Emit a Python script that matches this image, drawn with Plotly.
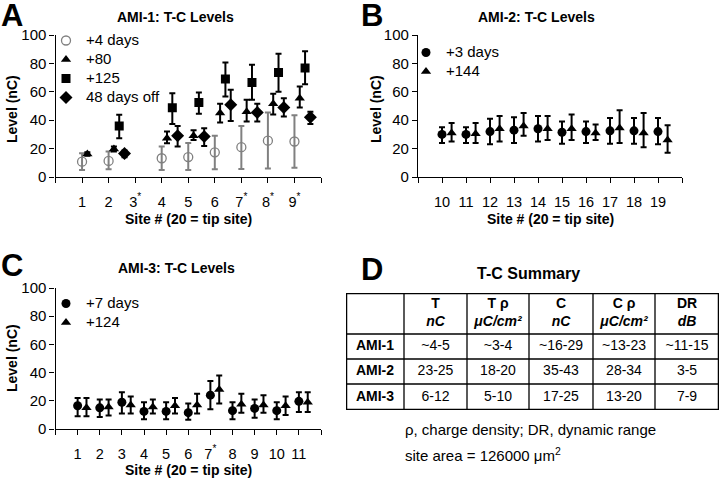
import plotly.graph_objects as go

# ── Panel A: AMI-1 (site, mean, upper, lower) ─────────────────────
a_d4_sites = [1, 2, 4, 5, 6, 7, 8, 9]
a_d4_mean = [10.8, 11.3, 13.2, 14.0, 17.4, 21.0, 25.6, 25.0]
a_d4_hi = [16.7, 18.0, 21.4, 24.0, 29.0, 36.0, 45.4, 43.5]
a_d4_lo = [5.0, 5.4, 5.0, 5.0, 5.4, 5.6, 6.0, 6.5]

a_d80_sites = [1, 2, 4, 5, 6, 7, 8, 9]
a_d80_mean = [16.2, 19.8, 27.3, 29.0, 45.0, 46.0, 51.5, 55.5]
a_d80_hi = [17.5, 21.4, 32.0, 33.0, 51.5, 54.4, 58.6, 63.8]
a_d80_lo = [15.0, 18.0, 23.8, 26.0, 38.4, 39.0, 44.0, 49.0]

a_d125_sites = [2, 4, 5, 6, 7, 8, 9]
a_d125_mean = [36.0, 48.7, 52.5, 69.0, 66.6, 73.6, 76.7]
a_d125_hi = [43.8, 59.0, 59.5, 80.7, 79.0, 86.8, 88.5]
a_d125_lo = [27.3, 37.4, 44.5, 56.7, 54.4, 60.0, 65.4]

a_off_sites = [2, 4, 5, 6, 7, 8, 9]
a_off_mean = [16.5, 29.0, 28.5, 50.8, 45.4, 49.0, 42.0]
a_off_hi = [18.6, 36.0, 34.4, 61.4, 51.5, 55.5, 46.0]
a_off_lo = [13.9, 21.4, 21.9, 39.5, 39.0, 42.6, 37.4]

a_ticks = list(range(0, 11))
a_ticktext = ["", "1", "2", "3<sup>*</sup>", "4", "5", "6",
              "7<sup>*</sup>", "8<sup>*</sup>", "9<sup>*</sup>", ""]

# ── Panel B: AMI-2 ────────────────────────────────────────────────
b_sites = list(range(10, 20))
b_d3_mean = [30.0, 30.0, 32.0, 33.0, 34.0, 31.5, 32.0, 32.5, 32.5, 32.0]
b_d3_hi = [35.0, 35.0, 41.0, 42.0, 43.0, 39.0, 39.0, 41.6, 41.6, 41.6]
b_d3_lo = [24.0, 24.0, 23.0, 24.0, 25.0, 23.5, 24.0, 23.5, 23.5, 23.0]

b_d144_mean = [31.0, 30.5, 34.0, 36.0, 34.0, 34.0, 31.0, 34.5, 31.0, 26.0]
b_d144_hi = [38.0, 38.0, 43.0, 45.0, 43.0, 44.0, 37.0, 47.0, 45.0, 36.5]
b_d144_lo = [25.0, 24.0, 25.0, 29.0, 26.0, 26.0, 26.0, 24.0, 21.0, 17.0]

b_ticks = list(range(9, 21))
b_ticktext = [""] + [str(s) for s in b_sites] + [""]

# ── Panel C: AMI-3 ────────────────────────────────────────────────
c_sites = list(range(1, 12))
c_d7_mean = [16.5, 15.0, 19.0, 12.5, 12.5, 11.6, 24.0, 13.0, 14.6, 13.0, 19.6]
c_d7_hi = [22.0, 21.0, 26.0, 19.0, 19.0, 18.0, 34.0, 19.0, 21.0, 19.0, 26.0]
c_d7_lo = [9.0, 8.5, 11.0, 7.0, 7.0, 6.6, 14.0, 7.0, 8.0, 7.0, 12.0]

c_d124_mean = [15.0, 15.6, 17.0, 15.6, 16.5, 17.0, 28.0, 17.5, 17.0, 16.5, 19.0]
c_d124_hi = [22.0, 21.0, 23.0, 21.0, 22.0, 25.0, 38.0, 25.0, 24.0, 23.0, 26.0]
c_d124_lo = [9.0, 9.5, 11.0, 11.0, 11.0, 11.0, 18.0, 11.5, 11.5, 10.0, 12.0]

c_ticks = list(range(0, 13))
c_ticktext = ["", "1", "2", "3", "4", "5", "6", "7<sup>*</sup>",
              "8", "9", "10", "11", ""]

# ── Panel D: summary table ────────────────────────────────────────
tbl_header = ["", "T<br><i>nC</i>", "T ρ<br><i>μC/cm²</i>",
              "C<br><i>nC</i>", "C ρ<br><i>μC/cm²</i>", "DR<br><i>dB</i>"]
tbl_rows = ["AMI-1", "AMI-2", "AMI-3"]
tbl_T = ["~4-5", "23-25", "6-12"]
tbl_Trho = ["~3-4", "18-20", "5-10"]
tbl_C = ["~16-29", "35-43", "17-25"]
tbl_Crho = ["~13-23", "28-34", "13-20"]
tbl_DR = ["~11-15", "3-5", "7-9"]
tbl_colw = [58, 63, 62, 64, 62, 64]
tbl_rowh = [41, 25, 25, 26]

FONT = "Liberation Sans, Arial, sans-serif"
BLACK = "#000000"
GREY = "#808080"
W, H = 720, 480


def px(x):
    return x / W


def py(y):
    return 1 - y / H


def leg(name):
    return f'<span style="font-size:15px">{name}</span>'


def err_trace(sites, mean, hi, lo, name, dx, xa, ya, symbol, size,
              color=BLACK, legend="legend", open_marker=False):
    marker = dict(symbol=symbol, size=size, color=color)
    if open_marker:
        marker["line"] = dict(color=color, width=1.3)
    return go.Scatter(
        x=[s + dx for s in sites], y=mean,
        mode="markers", name=leg(name),
        marker=marker,
        error_y=dict(type="data", symmetric=False,
                     array=[h - m for h, m in zip(hi, mean)],
                     arrayminus=[m - l for m, l in zip(mean, lo)],
                     color=color, thickness=2, width=3),
        xaxis=xa, yaxis=ya, legend=legend,
    )


fig = go.Figure()

# A
fig.add_trace(err_trace(a_d4_sites, a_d4_mean, a_d4_hi, a_d4_lo, "+4 days",
                        0.0, "x", "y", "circle-open", 9, GREY, open_marker=True))
fig.add_trace(err_trace(a_d80_sites, a_d80_mean, a_d80_hi, a_d80_lo, "+80",
                        0.2, "x", "y", "triangle-up", 9))
fig.add_trace(err_trace(a_d125_sites, a_d125_mean, a_d125_hi, a_d125_lo, "+125",
                        0.4, "x", "y", "square", 9))
fig.add_trace(err_trace(a_off_sites, a_off_mean, a_off_hi, a_off_lo, "48 days off",
                        0.6, "x", "y", "diamond", 10))
# B
fig.add_trace(err_trace(b_sites, b_d3_mean, b_d3_hi, b_d3_lo, "+3 days",
                        0.0, "x2", "y2", "circle", 9, legend="legend2"))
fig.add_trace(err_trace(b_sites, b_d144_mean, b_d144_hi, b_d144_lo, "+144",
                        0.4, "x2", "y2", "triangle-up", 9, legend="legend2"))
# C
fig.add_trace(err_trace(c_sites, c_d7_mean, c_d7_hi, c_d7_lo, "+7 days",
                        0.0, "x3", "y3", "circle", 9, legend="legend3"))
fig.add_trace(err_trace(c_sites, c_d124_mean, c_d124_hi, c_d124_lo, "+124",
                        0.4, "x3", "y3", "triangle-up", 9, legend="legend3"))

# ── D: table drawn on a hidden axis pair (x4/y4, units = pixels) ──
col_edges = [0]
for w in tbl_colw:
    col_edges.append(col_edges[-1] + w)
row_edges = [0]
for h in tbl_rowh:
    row_edges.append(row_edges[-1] + h)
col_mid = [(a + b) / 2 for a, b in zip(col_edges[:-1], col_edges[1:])]
row_mid = [(a + b) / 2 for a, b in zip(row_edges[:-1], row_edges[1:])]

columns = [[f"<b>{r}</b>" for r in tbl_rows], tbl_T, tbl_Trho, tbl_C,
           tbl_Crho, tbl_DR]
cx, cy, ct = [], [], []
for j, h in enumerate(tbl_header):
    cx.append(col_mid[j])
    cy.append(row_mid[0])
    ct.append(f"<b>{h}</b>")
    for i, v in enumerate(columns[j]):
        cx.append(col_mid[j])
        cy.append(row_mid[i + 1])
        ct.append(v)

fig.add_trace(go.Scatter(
    x=cx, y=cy, text=ct, mode="text", textposition="middle center",
    textfont=dict(family=FONT, size=14, color=BLACK),
    xaxis="x4", yaxis="y4", showlegend=False, hoverinfo="skip",
))

for e in col_edges[1:-1]:
    fig.add_shape(type="line", xref="x4", yref="y4", x0=e, x1=e,
                  y0=0, y1=row_edges[-1], line=dict(color=BLACK, width=1.3))
for e in row_edges[1:-1]:
    fig.add_shape(type="line", xref="x4", yref="y4", x0=0, x1=col_edges[-1],
                  y0=e, y1=e, line=dict(color=BLACK, width=1.3))
fig.add_shape(type="rect", xref="x4", yref="y4", x0=0, x1=col_edges[-1],
              y0=0, y1=row_edges[-1], line=dict(color=BLACK, width=2.5))

axis_common = dict(showline=True, linecolor=BLACK, linewidth=1.3,
                   ticks="outside", ticklen=5, tickcolor=BLACK, tickwidth=1.3,
                   showgrid=False, zeroline=False, fixedrange=True,
                   automargin=False)
xtick_font = dict(family=FONT, size=14.5, color=BLACK)
ytick_font = dict(family=FONT, size=15, color=BLACK)
y_ticks = [0, 20, 40, 60, 80, 100]

legend_common = dict(xanchor="left", yanchor="top", bgcolor="rgba(0,0,0,0)",
                     font=dict(family=FONT, size=11, color=BLACK))

fig.update_layout(
    template="none",
    width=W, height=H,
    margin=dict(l=0, r=0, t=0, b=0, pad=0),
    paper_bgcolor="white", plot_bgcolor="white",
    font=dict(family=FONT, color=BLACK),
    xaxis=dict(domain=[px(55.5), px(321)], range=[0, 10], anchor="y",
               tickmode="array", tickvals=a_ticks, ticktext=a_ticktext,
               ticklabelstandoff=6, tickfont=xtick_font, **axis_common),
    yaxis=dict(domain=[py(177), py(35)], range=[0, 100], anchor="x",
               tickvals=y_ticks, tickfont=ytick_font, **axis_common),
    xaxis2=dict(domain=[px(418), px(682)], range=[9, 20], anchor="y2",
                tickmode="array", tickvals=b_ticks, ticktext=b_ticktext,
                ticklabelstandoff=6, tickfont=xtick_font, **axis_common),
    yaxis2=dict(domain=[py(177), py(35)], range=[0, 100], anchor="x2",
                tickvals=y_ticks, tickfont=ytick_font, **axis_common),
    xaxis3=dict(domain=[px(55.5), px(321)], range=[0, 12], anchor="y3",
                tickmode="array", tickvals=c_ticks, ticktext=c_ticktext,
                ticklabelstandoff=6, tickfont=xtick_font, **axis_common),
    yaxis3=dict(domain=[py(429), py(288)], range=[0, 100], anchor="x3",
                tickvals=y_ticks, tickfont=ytick_font, **axis_common),
    xaxis4=dict(domain=[px(346), px(719)], range=[0, col_edges[-1]],
                anchor="y4", visible=False, fixedrange=True),
    yaxis4=dict(domain=[py(293 + row_edges[-1]), py(293)],
                range=[row_edges[-1], 0], anchor="x4", visible=False,
                fixedrange=True),
    legend=dict(x=px(46), y=py(26), **legend_common),
    legend2=dict(x=px(406), y=py(38), **legend_common),
    legend3=dict(x=px(46), y=py(289), **legend_common),
)

texts = [
    # (text, x px, y px, size, angle)
    ("A", 12, 15, 31, 0),
    ("B", 372, 15, 31, 0),
    ("C", 12, 265, 31, 0),
    ("D", 372, 269, 31, 0),
    ("AMI-1: T-C Levels", 175, 17, 14, 0),
    ("AMI-2: T-C Levels", 536, 17, 14, 0),
    ("AMI-3: T-C Levels", 176, 268, 14, 0),
    ("T-C Summary", 528, 273, 16, 0),
    ("Site # (20 = tip site)", 188, 219, 14, 0),
    ("Site # (20 = tip site)", 550, 219, 14, 0),
    ("Site # (20 = tip site)", 188, 470, 14, 0),
    ("Level (nC)", 12, 109, 14, -90),
    ("Level (nC)", 376, 109, 14, -90),
    ("Level (nC)", 12, 358, 14, -90),
]
for t, x, y, s, ang in texts:
    fig.add_annotation(text=f"<b>{t}</b>", x=px(x), y=py(y),
                       xref="paper", yref="paper", showarrow=False,
                       textangle=ang, xanchor="center", yanchor="middle",
                       font=dict(family=FONT, size=s, color=BLACK))

for t, y in [("ρ, charge density; DR, dynamic range", 429),
             ("site area = 126000 μm<sup>2</sup>", 454)]:
    fig.add_annotation(text=t, x=px(403), y=py(y), xref="paper", yref="paper",
                       showarrow=False, xanchor="left", yanchor="middle",
                       font=dict(family=FONT, size=15, color=BLACK))

fig.write_html("out.html", config={"displayModeBar": False},
               post_script="document.body.style.margin='0';")
